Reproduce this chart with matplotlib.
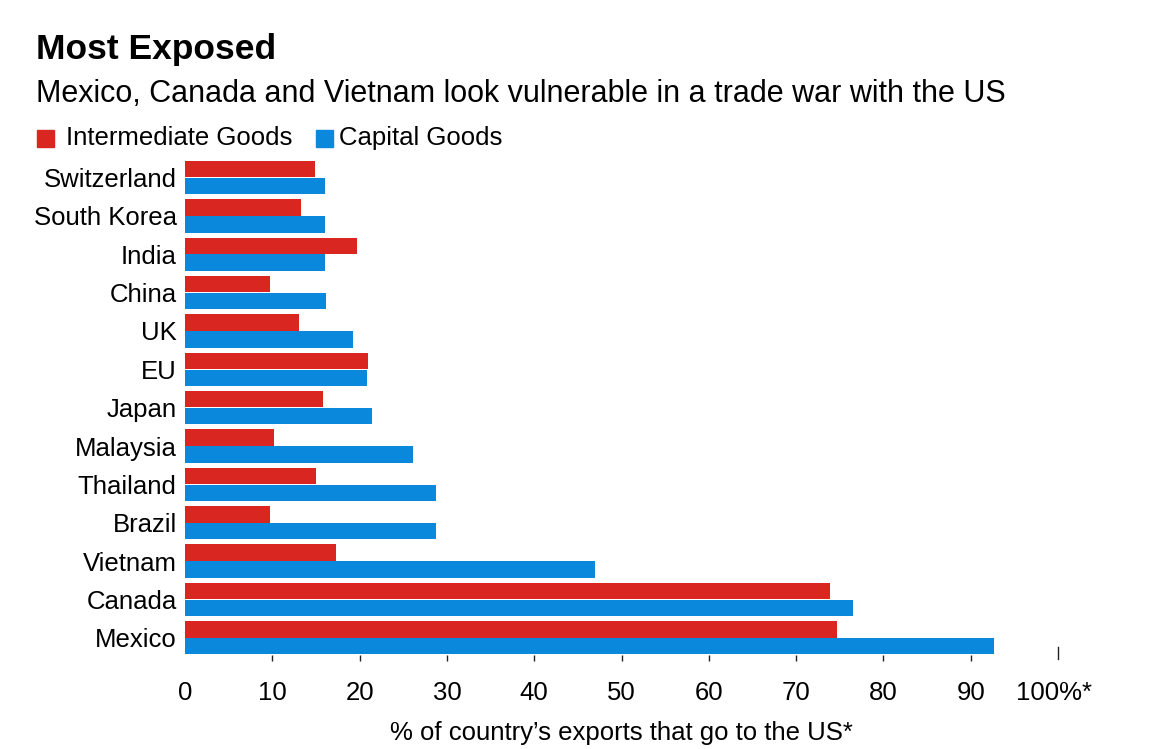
import matplotlib
matplotlib.use("Agg")
import matplotlib.pyplot as plt
import numpy as np

plt.rcParams['font.family'] = ['Liberation Sans', 'DejaVu Sans']

countries = ["Switzerland", "South Korea", "India", "China", "UK", "EU", "Japan",
             "Malaysia", "Thailand", "Brazil", "Vietnam", "Canada", "Mexico"]
intermediate = [14.9, 13.3, 19.7, 9.7, 13.0, 21.0, 15.8, 10.2, 15.0, 9.7, 17.3, 73.9, 74.7]
capital = [16.0, 16.0, 16.0, 16.2, 19.2, 20.8, 21.4, 26.1, 28.8, 28.8, 47.0, 76.5, 92.7]
xticks = [0, 10, 20, 30, 40, 50, 60, 70, 80, 90]

RED = "#DA2621"
BLUE = "#0A88DC"

fig = plt.figure(figsize=(11.53, 7.49), dpi=100)
ax = fig.add_axes([0.1605, 0.1255, 0.9176 - 0.1605, 0.789 - 0.1255])

y = np.arange(len(countries))
h = 0.43
ax.barh(y - h / 2 - 0.005, intermediate, height=h, color=RED, linewidth=0)
ax.barh(y + h / 2 + 0.005, capital, height=h, color=BLUE, linewidth=0)

ax.set_xlim(0, 100)
ax.set_ylim(12.45, -0.51)
for s in ax.spines.values():
    s.set_visible(False)

ax.set_yticks(y)
ax.set_yticklabels(countries, fontsize=18.5)
ax.tick_params(axis='y', length=0, pad=6)

ax.set_xticks(xticks)
ax.set_xticklabels([str(t) for t in xticks], fontsize=18.5)
ax.tick_params(axis='x', length=4, width=1, color='#222222', pad=15)
ax.xaxis.get_major_ticks()[0].tick1line.set_visible(False)

# separate longer tick and label at 100
ax.plot([100, 100], [12.25, 12.55], color='#222222', lw=1, clip_on=False)
ax.annotate("100%*", xy=(100, 0), xycoords=('data', 'axes fraction'),
            xytext=(-3, -18.5), textcoords='offset points', ha='center', va='top', fontsize=18.5)

ax.set_xlabel("% of country\u2019s exports that go to the US*", fontsize=18.5, labelpad=11)

fig.text(0.031, 0.934, "Most Exposed", fontsize=25.5, fontweight='bold', va='center')
fig.text(0.031, 0.874, "Mexico, Canada and Vietnam look vulnerable in a trade war with the US",
         fontsize=22, va='center')

# legend
fig.patches.append(plt.Rectangle((37 / 1153, 1 - 147 / 749), 17 / 1153, 17 / 749,
                                 transform=fig.transFigure, color=RED))
fig.text(66 / 1153, 1 - 138 / 749, "Intermediate Goods", fontsize=18.5, va='center')
fig.patches.append(plt.Rectangle((316 / 1153, 1 - 147 / 749), 17 / 1153, 17 / 749,
                                 transform=fig.transFigure, color=BLUE))
fig.text(339 / 1153, 1 - 138 / 749, "Capital Goods", fontsize=18.5, va='center')

fig.savefig("out.png", dpi=100)
